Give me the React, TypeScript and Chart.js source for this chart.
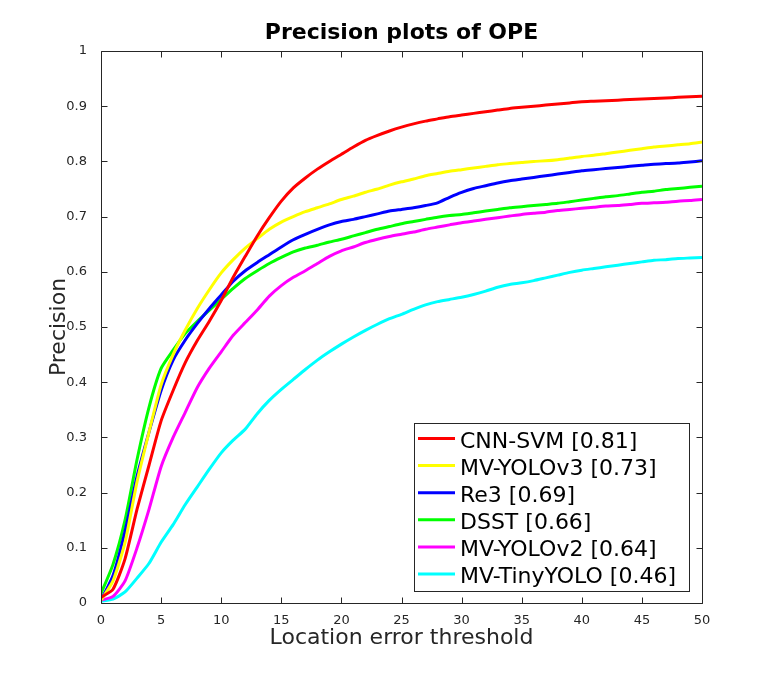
import React, { useEffect, useRef } from 'react';
import { Chart, registerables } from 'chart.js';

Chart.register(...registerables);

const thresholds = [
  0, 1, 2, 3, 4, 5, 6, 7, 8, 9, 10, 11, 12, 13, 14, 15, 16, 17, 18, 19, 20,
  21, 22, 23, 24, 25, 26, 27, 28, 29, 30, 31, 32, 33, 34, 35, 36, 37, 38, 39, 40,
  41, 42, 43, 44, 45, 46, 47, 48, 49, 50,
];

const cnnSvm = [
  0.01, 0.025, 0.08, 0.17, 0.25, 0.33, 0.385, 0.435, 0.475, 0.51, 0.548,
  0.59, 0.628, 0.665, 0.698, 0.728, 0.752, 0.77, 0.786, 0.8, 0.813,
  0.826, 0.838, 0.847, 0.855, 0.862, 0.868, 0.873, 0.877, 0.881, 0.884,
  0.887, 0.89, 0.893, 0.896, 0.898, 0.9, 0.902, 0.904, 0.906, 0.908,
  0.909, 0.91, 0.911, 0.912, 0.913, 0.914, 0.915, 0.916, 0.917, 0.918,
];

const mvYolov3 = [
  0.005, 0.04, 0.11, 0.22, 0.31, 0.395, 0.45, 0.494, 0.533, 0.567, 0.598,
  0.622, 0.643, 0.66, 0.677, 0.69, 0.7, 0.709, 0.716, 0.723, 0.731,
  0.737, 0.744, 0.75, 0.757, 0.763, 0.768, 0.774, 0.778, 0.782, 0.785,
  0.788, 0.791, 0.794, 0.796, 0.798, 0.8, 0.801, 0.803, 0.806, 0.809,
  0.811, 0.814, 0.817, 0.82, 0.823, 0.826, 0.828, 0.83, 0.832, 0.835,
];

const re3 = [
  0.005, 0.05, 0.13, 0.23, 0.31, 0.385, 0.44, 0.476, 0.506, 0.533, 0.558,
  0.583, 0.602, 0.617, 0.631, 0.645, 0.658, 0.668, 0.677, 0.685, 0.691,
  0.695, 0.7, 0.705, 0.71, 0.713, 0.716, 0.72, 0.725, 0.735, 0.744,
  0.751, 0.756, 0.761, 0.765, 0.768, 0.771, 0.774, 0.777, 0.78, 0.783,
  0.785, 0.787, 0.789, 0.791, 0.793, 0.795, 0.796, 0.797, 0.799, 0.801,
];

const dsst = [
  0.017, 0.07, 0.15, 0.26, 0.355, 0.425, 0.458, 0.488, 0.51, 0.53, 0.55,
  0.57, 0.588, 0.602, 0.615, 0.626, 0.636, 0.643, 0.648, 0.654, 0.659,
  0.665, 0.671, 0.677, 0.682, 0.687, 0.691, 0.695, 0.699, 0.702, 0.704,
  0.707, 0.71, 0.713, 0.716, 0.718, 0.72, 0.722, 0.724, 0.727, 0.73,
  0.733, 0.736, 0.738, 0.741, 0.744, 0.746, 0.749, 0.751, 0.753, 0.755,
];

const mvYolov2 = [
  0.005, 0.012, 0.04, 0.1, 0.17, 0.247, 0.3, 0.345, 0.39, 0.425, 0.455,
  0.485, 0.508, 0.531, 0.556, 0.575, 0.59, 0.602, 0.615, 0.628, 0.638,
  0.645, 0.653, 0.659, 0.664, 0.668, 0.672, 0.677, 0.681, 0.685, 0.689,
  0.692, 0.695, 0.698, 0.701, 0.704, 0.706, 0.708, 0.711, 0.713, 0.715,
  0.717, 0.719, 0.72, 0.722, 0.724, 0.725, 0.726, 0.728, 0.729, 0.731,
];

const mvTinyYolo = [
  0.003, 0.007, 0.02, 0.045, 0.072, 0.11, 0.142, 0.178, 0.21, 0.242, 0.272,
  0.295, 0.315, 0.343, 0.367, 0.387, 0.405, 0.423, 0.44, 0.455, 0.469,
  0.482, 0.494, 0.505, 0.515, 0.523, 0.532, 0.54, 0.546, 0.55, 0.554,
  0.559, 0.565, 0.572, 0.577, 0.58, 0.584, 0.589, 0.594, 0.599, 0.603,
  0.606, 0.609, 0.612, 0.615, 0.618, 0.621, 0.622, 0.624, 0.625, 0.626,
];

const seriesLabels = [
  'CNN-SVM [0.81]',
  'MV-YOLOv3 [0.73]',
  'Re3 [0.69]',
  'DSST [0.66]',
  'MV-YOLOv2 [0.64]',
  'MV-TinyYOLO [0.46]',
];
const seriesValues = [cnnSvm, mvYolov3, re3, dsst, mvYolov2, mvTinyYolo];
const seriesColors = ['#ff0000', '#ffff00', '#0000ff', '#00ff00', '#ff00ff', '#00ffff'];

const FONT = '"DejaVu Sans", sans-serif';
const AXIS_COLOR = '#262626';

const framePlugin = {
  id: 'frame',
  afterDatasetsDraw(chart: any) {
    const { ctx, chartArea: a, scales } = chart;
    const xs = scales.x;
    const ys = scales.y;
    const tl = 6;
    ctx.save();
    ctx.strokeStyle = AXIS_COLOR;
    ctx.lineWidth = 1;
    ctx.beginPath();
    const L = Math.round(a.left) + 0.5;
    const R = Math.round(a.right) + 0.5;
    const T = Math.round(a.top) + 0.5;
    const B = Math.round(a.bottom) + 0.5;
    ctx.rect(L, T, R - L, B - T);
    xs.ticks.forEach((t: any) => {
      const px = Math.round(xs.getPixelForValue(t.value)) + 0.5;
      ctx.moveTo(px, B);
      ctx.lineTo(px, B - tl);
      ctx.moveTo(px, T);
      ctx.lineTo(px, T + tl);
    });
    ys.ticks.forEach((t: any) => {
      const py = Math.round(ys.getPixelForValue(t.value)) + 0.5;
      ctx.moveTo(L, py);
      ctx.lineTo(L + tl, py);
      ctx.moveTo(R, py);
      ctx.lineTo(R - tl, py);
    });
    ctx.stroke();
    ctx.restore();
  },
};

const legendPlugin = {
  id: 'boxLegend',
  afterDraw(chart: any) {
    const { ctx, chartArea: a } = chart;
    const datasets = chart.data.datasets;
    const w = 275;
    const h = 168;
    const right = a.right - 13;
    const bottom = a.bottom - 12;
    const left = right - w;
    const top = bottom - h;
    ctx.save();
    ctx.fillStyle = '#ffffff';
    ctx.fillRect(left, top, w, h);
    ctx.strokeStyle = AXIS_COLOR;
    ctx.lineWidth = 1;
    ctx.strokeRect(Math.round(left) + 0.5, Math.round(top) + 0.5, w, h);
    ctx.font = `22px ${FONT}`;
    ctx.textAlign = 'left';
    ctx.textBaseline = 'alphabetic';
    datasets.forEach((ds: any, i: number) => {
      const baseline = top + 24.5 + i * 27.1;
      const ly = baseline - 9;
      ctx.strokeStyle = ds.borderColor;
      ctx.lineWidth = 3;
      ctx.beginPath();
      ctx.moveTo(left + 4, ly);
      ctx.lineTo(left + 41, ly);
      ctx.stroke();
      ctx.fillStyle = '#000000';
      ctx.fillText(ds.label, left + 46, baseline);
    });
    ctx.restore();
  },
};

export default function App() {
  const canvasRef = useRef<HTMLCanvasElement | null>(null);

  useEffect(() => {
    const canvas = canvasRef.current;
    if (!canvas) return;
    const datasets = seriesLabels.map((label, i) => ({
      label,
      data: thresholds.map((x, j) => ({ x, y: seriesValues[i][j] })),
      borderColor: seriesColors[i],
      backgroundColor: seriesColors[i],
      borderWidth: 3,
      pointRadius: 0,
      tension: 0.2,
      fill: false,
    }));
    const chart = new Chart(canvas, {
      type: 'line',
      data: { datasets },
      options: {
        responsive: false,
        animation: false,
        layout: { padding: { left: 0, right: 74, top: 0, bottom: 0 } },
        plugins: {
          legend: { display: false },
          tooltip: { enabled: false },
          title: {
            display: true,
            text: 'Precision plots of OPE',
            color: '#000000',
            fullSize: false,
            font: { family: FONT, size: 22, weight: 'bold' },
            padding: { top: 20, bottom: 4.6 },
          },
        },
        scales: {
          x: {
            type: 'linear',
            min: 0,
            max: 50,
            grid: { display: false },
            border: { display: false },
            ticks: {
              stepSize: 5,
              color: AXIS_COLOR,
              padding: 2,
              maxRotation: 0,
              font: { family: FONT, size: 13 },
            },
            title: {
              display: true,
              text: 'Location error threshold',
              color: AXIS_COLOR,
              font: { family: FONT, size: 22 },
              padding: { top: 0, bottom: 27.4 },
            },
            afterFit: (s: any) => {
              s.height = 76;
            },
          },
          y: {
            type: 'linear',
            min: 0,
            max: 1,
            grid: { display: false },
            border: { display: false },
            ticks: {
              stepSize: 0.1,
              color: AXIS_COLOR,
              padding: 6,
              font: { family: FONT, size: 13 },
              callback: (v: any) => String(Math.round(Number(v) * 10) / 10),
            },
            title: {
              display: true,
              text: 'Precision',
              color: AXIS_COLOR,
              font: { family: FONT, size: 22 },
              padding: { top: 46, bottom: 0 },
            },
            afterFit: (s: any) => {
              s.width = 101;
            },
          },
        },
      },
      plugins: [framePlugin, legendPlugin],
    });
    return () => chart.destroy();
  }, []);

  return (
    <div style={{ position: 'fixed', left: 0, top: 0, width: 776, height: 679, background: '#ffffff' }}>
      <canvas ref={canvasRef} width={776} height={679} style={{ display: 'block' }} />
    </div>
  );
}
